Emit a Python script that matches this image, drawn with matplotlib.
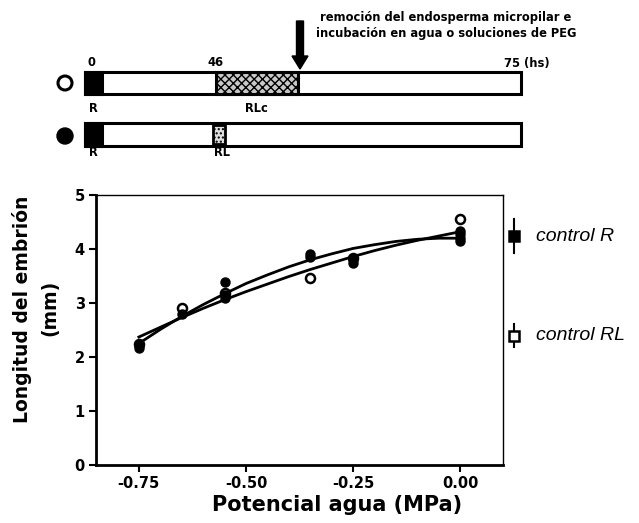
import matplotlib
matplotlib.use('Agg')
import matplotlib.pyplot as plt
from matplotlib.patches import Rectangle, Circle, FancyArrow

plt.rcParams['font.family'] = ['DejaVu Sans']

# ---------------- data ----------------
x_filled = [-0.75, -0.75, -0.65, -0.55, -0.55, -0.55, -0.35, -0.35, -0.25, -0.25, 0.0, 0.0, 0.0, 0.0]
y_filled = [2.22, 2.17, 2.80, 3.38, 3.15, 3.10, 3.91, 3.85, 3.82, 3.75, 4.33, 4.27, 4.20, 4.15]
x_open = [-0.75, -0.65, -0.55, -0.35, -0.25, 0.0]
y_open = [2.25, 2.91, 3.18, 3.46, 3.83, 4.55]

curve_x = [-0.75, -0.70, -0.65, -0.60, -0.55, -0.50, -0.45, -0.40,
           -0.35, -0.30, -0.25, -0.20, -0.15, -0.10, -0.05, 0.0]
curve_a = [2.25, 2.51, 2.75, 2.97, 3.17, 3.36, 3.52, 3.67,
           3.80, 3.91, 4.01, 4.08, 4.14, 4.18, 4.20, 4.20]
curve_b = [2.37, 2.55, 2.73, 2.90, 3.06, 3.21, 3.35, 3.49,
           3.62, 3.74, 3.86, 3.97, 4.07, 4.16, 4.24, 4.32]

control_labels = ['control R', 'control RL']
control_mean = [4.24, 2.39]
control_low = [3.93, 2.19]
control_high = [4.55, 2.61]
control_fill = ['black', 'white']

xticks = [-0.75, -0.50, -0.25, 0.0]
xticklabels = ['-0.75', '-0.50', '-0.25', '0.00']
yticks = [0, 1, 2, 3, 4, 5]

# ---------------- figure ----------------
W, H = 639, 523
fig = plt.figure(figsize=(W / 100, H / 100), dpi=100)

# schematic overlay (pixel coordinates)
ax0 = fig.add_axes([0, 0, 1, 1])
ax0.set_xlim(0, W)
ax0.set_ylim(H, 0)
ax0.axis('off')

# top bar
ax0.add_patch(Rectangle((85, 72), 436, 22, facecolor='white', edgecolor='black', lw=2.2))
ax0.add_patch(Rectangle((85, 72), 17, 22, facecolor='black', edgecolor='black', lw=2.2))
ax0.add_patch(Rectangle((216, 72), 82, 22, facecolor='#c8c8c8', edgecolor='black', lw=2.2,
                        hatch='xxxx'))
# bottom bar
ax0.add_patch(Rectangle((85, 123), 436, 23, facecolor='white', edgecolor='black', lw=2.2))
ax0.add_patch(Rectangle((85, 123), 17, 23, facecolor='black', edgecolor='black', lw=2.2))
ax0.add_patch(Rectangle((213, 125), 12, 19, facecolor='#e0e0e0', edgecolor='black', lw=2.0,
                        hatch='....'))

ax0.add_patch(Circle((65, 83), 7, facecolor='white', edgecolor='black', lw=2.2))
ax0.add_patch(Circle((65, 136), 8, facecolor='black', edgecolor='black', lw=1))

ax0.add_patch(FancyArrow(300, 21, 0, 48, width=7, head_width=16, head_length=13,
                         length_includes_head=True, color='black'))

small = dict(fontsize=8.3, fontweight='bold', color='black', va='center')
ax0.text(91, 63, '0', ha='center', **small)
ax0.text(215, 63, '46', ha='center', **small)
ax0.text(504, 63, '75 (hs)', ha='left', **small)
ax0.text(93, 108, 'R', ha='center', **small)
ax0.text(256, 108, 'RLc', ha='center', **small)
ax0.text(93, 153, 'R', ha='center', **small)
ax0.text(222, 153, 'RL', ha='center', **small)
ax0.text(446, 17, 'remoción del endosperma micropilar e', ha='center', **small)
ax0.text(446, 33, 'incubación en agua o soluciones de PEG', ha='center', **small)

# main plot
ax = fig.add_axes([96 / W, 58 / H, 407 / W, 270 / H])
ax.set_xlim(-0.85, 0.1)
ax.set_ylim(0, 5)

ax.plot(curve_x, curve_a, color='black', lw=2.0, zorder=2)
ax.plot(curve_x, curve_b, color='black', lw=2.0, zorder=2)
ax.plot(x_open, y_open, 'o', ms=6.5, mfc='white', mec='black', mew=1.8, zorder=3)
ax.plot(x_filled, y_filled, 'o', ms=6.5, mfc='black', mec='black', zorder=4)

ctrl_x = 0.126
for lab, m, lo, hi, fc in zip(control_labels, control_mean, control_low, control_high, control_fill):
    ax.plot([ctrl_x, ctrl_x], [lo, hi], color='black', lw=1.5, clip_on=False)
    ax.plot([ctrl_x], [m], 's', ms=7.5, mfc=fc, mec='black', mew=1.8, clip_on=False, zorder=5)
    ax.text(0.177, m, lab, fontsize=14, fontstyle='italic', va='center', ha='left',
            family=['Liberation Sans', 'DejaVu Sans'])

ax.set_xticks(xticks)
ax.set_xticklabels(xticklabels)
ax.set_yticks(yticks)
for s in ['left', 'bottom']:
    ax.spines[s].set_linewidth(2.0)
for s in ['top', 'right']:
    ax.spines[s].set_linewidth(1.0)
ax.tick_params(direction='out', length=5, width=1.5, labelsize=10.5, pad=3)
for t in ax.get_xticklabels() + ax.get_yticklabels():
    t.set_fontweight('bold')

fig.text(337 / W, 1 - 505 / H, 'Potencial agua (MPa)', fontsize=15, fontweight='bold',
         ha='center', va='center')
fig.text(22 / W, 1 - 309 / H, 'Longitud del embrión', fontsize=13.5, fontweight='bold',
         ha='center', va='center', rotation=90)
fig.text(50 / W, 1 - 308 / H, '(mm)', fontsize=13.5, fontweight='bold',
         ha='center', va='center', rotation=90)

fig.savefig('out.png', dpi=100)
